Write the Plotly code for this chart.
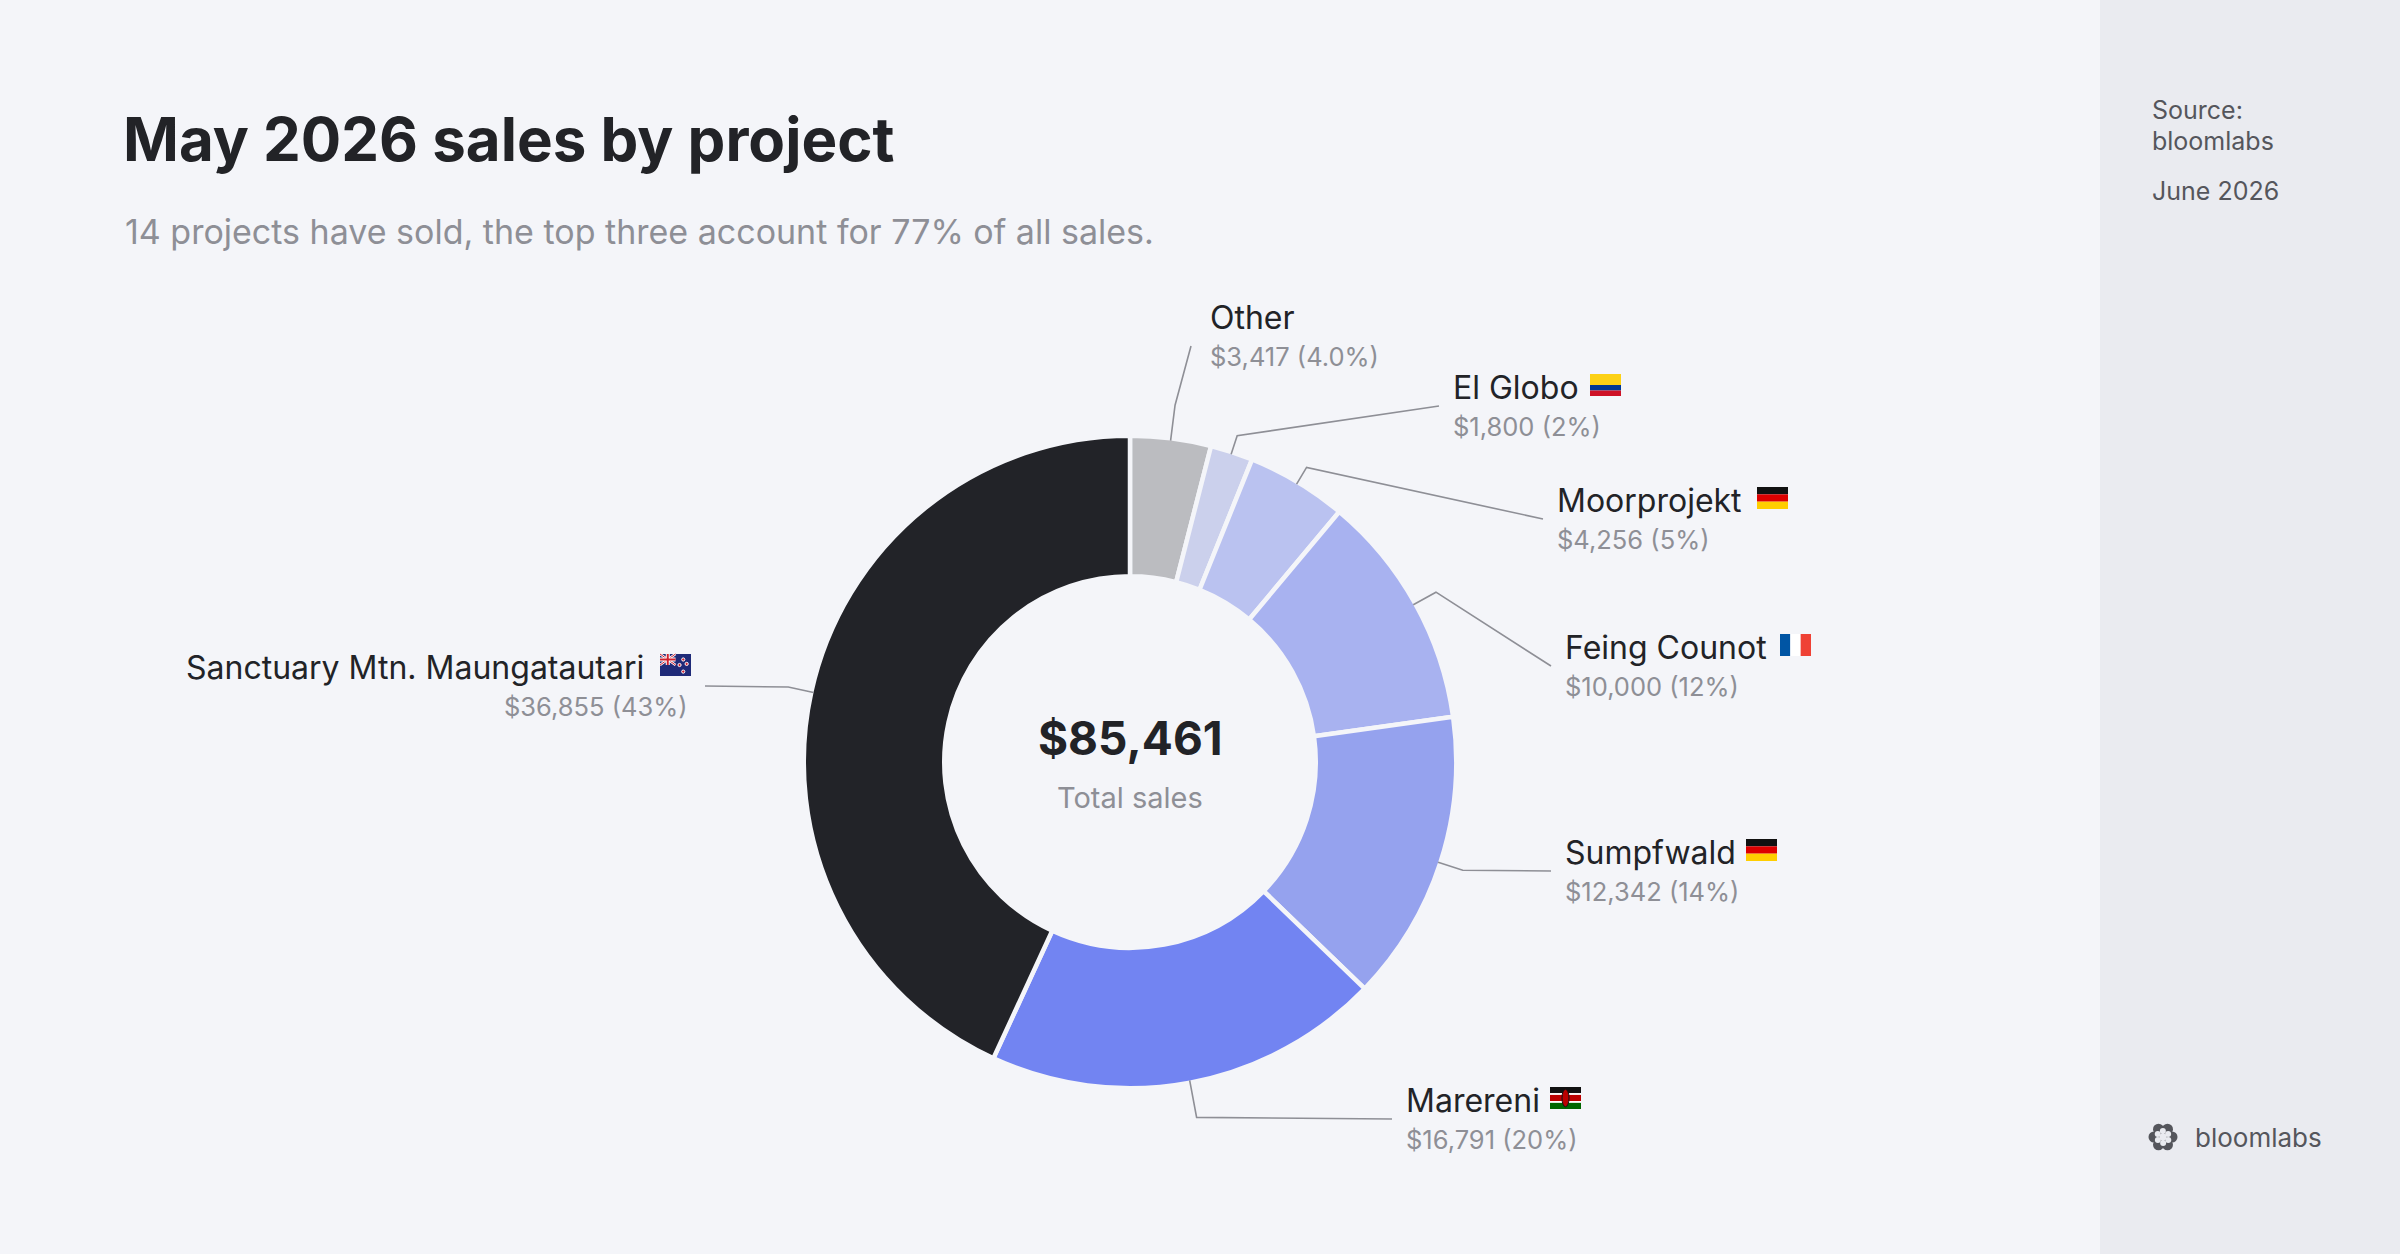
import math
import plotly.graph_objects as go

# data
PROJECTS = ["Other", "El Globo", "Moorprojekt", "Feing Counot", "Sumpfwald",
            "Marereni", "Sanctuary Mtn. Maungatautari"]
SALES = [3417, 1800, 4256, 10000, 12342, 16791, 36855]
FLAGS = [None, "co", "de", "fr", "de", "ke", "nz"]
PROJECT_COUNT = 14
SLICE_COLORS = ["#bbbcc0", "#cbd0ec", "#bac2f0", "#a8b2f0", "#95a2ee", "#7284f2", "#222328"]

W, H = 2400, 1254
BG = "#f4f5f9"
PANEL = "#eaebf0"
DARK = "#222327"
GREY = "#8e8f96"
INK = "#55565c"
FONT = "Inter"

# donut geometry in pixels
CX, CY = 1130, 762
R_OUT = 324
R_IN = 188
GAP = 4.5
R_DOM = R_OUT + GAP / 2

# label placement (pixels): name x, name y, side, flag x, elbow radius factor
LABELS = {
    "Other": (1208, 317, "left", None, 1.11),
    "El Globo": (1451, 387, "left", 1590, 1.06),
    "Moorprojekt": (1555, 500, "left", 1757, 1.06),
    "Feing Counot": (1563, 647, "left", 1780, 1.08),
    "Sumpfwald": (1563, 852, "left", 1746, 1.08),
    "Marereni": (1404, 1100, "left", 1550, 1.116),
    "Sanctuary Mtn. Maungatautari": (646, 667, "right", 660, 1.08),
}


def px(x):
    return x / W


def py(y):
    return 1 - y / H


total = sum(SALES)
top3 = sum(sorted(SALES[1:], reverse=True)[:3])

fig = go.Figure()
fig.add_trace(go.Pie(
    values=SALES, labels=PROJECTS, sort=False, direction="clockwise", rotation=0,
    hole=(R_IN - GAP / 2) / R_DOM,
    marker=dict(colors=SLICE_COLORS, line=dict(color=BG, width=GAP)),
    textinfo="none", hoverinfo="label+value+percent", showlegend=False,
    domain=dict(x=[px(CX - R_DOM), px(CX + R_DOM)], y=[py(CY + R_DOM), py(CY - R_DOM)]),
))

shapes = []
annotations = []

# right panel
shapes.append(dict(type="rect", xref="paper", yref="paper", x0=px(2100), x1=1, y0=0, y1=1,
                   fillcolor=PANEL, line=dict(width=0), layer="below"))


def rect(x0, y0, x1, y1, color):
    shapes.append(dict(type="rect", xref="paper", yref="paper",
                       x0=px(x0), x1=px(x1), y0=py(y1), y1=py(y0),
                       fillcolor=color, line=dict(width=0), layer="above"))


def line(x0, y0, x1, y1, color, width):
    shapes.append(dict(type="line", xref="paper", yref="paper",
                       x0=px(x0), x1=px(x1), y0=py(y0), y1=py(y1),
                       line=dict(color=color, width=width), layer="above"))


def circle(xc, yc, r, color, outline=None):
    shapes.append(dict(type="circle", xref="paper", yref="paper",
                       x0=px(xc - r), x1=px(xc + r), y0=py(yc + r), y1=py(yc - r),
                       fillcolor=color,
                       line=dict(color=outline or color, width=1 if outline else 0),
                       layer="above"))


def draw_flag(code, x, yc, w=31, h=22):
    y0 = yc - h / 2
    if code == "de":
        for i, c in enumerate(["#111111", "#dd0000", "#ffce00"]):
            rect(x, y0 + i * h / 3, x + w, y0 + (i + 1) * h / 3, c)
    elif code == "fr":
        for i, c in enumerate(["#0055a4", "#ffffff", "#ef4135"]):
            rect(x + i * w / 3, y0, x + (i + 1) * w / 3, y0 + h, c)
    elif code == "co":
        rect(x, y0, x + w, y0 + h / 2, "#fcd116")
        rect(x, y0 + h / 2, x + w, y0 + 3 * h / 4, "#003893")
        rect(x, y0 + 3 * h / 4, x + w, y0 + h, "#ce1126")
    elif code == "ke":
        bands = [(0, 0.28, "#111111"), (0.28, 0.36, "#ffffff"), (0.36, 0.64, "#bb0000"),
                 (0.64, 0.72, "#ffffff"), (0.72, 1, "#006600")]
        for a, b, c in bands:
            rect(x, y0 + a * h, x + w, y0 + b * h, c)
        shapes.append(dict(type="circle", xref="paper", yref="paper",
                           x0=px(x + w / 2 - 3.5), x1=px(x + w / 2 + 3.5),
                           y0=py(y0 + h * 0.9), y1=py(y0 + h * 0.1),
                           fillcolor="#bb0000", line=dict(color="#111111", width=1),
                           layer="above"))
    elif code == "nz":
        rect(x, y0, x + w, y0 + h, "#1f2a78")
        cw, ch = w / 2, h / 2
        line(x, y0, x + cw, y0 + ch, "#ffffff", 2.5)
        line(x, y0 + ch, x + cw, y0, "#ffffff", 2.5)
        line(x, y0, x + cw, y0 + ch, "#d0202e", 1)
        line(x, y0 + ch, x + cw, y0, "#d0202e", 1)
        rect(x + cw / 2 - 2, y0, x + cw / 2 + 2, y0 + ch, "#ffffff")
        rect(x, y0 + ch / 2 - 2, x + cw, y0 + ch / 2 + 2, "#ffffff")
        rect(x + cw / 2 - 1, y0, x + cw / 2 + 1, y0 + ch, "#d0202e")
        rect(x, y0 + ch / 2 - 1, x + cw, y0 + ch / 2 + 1, "#d0202e")
        for sx, sy in [(0.75, 0.25), (0.63, 0.5), (0.86, 0.45), (0.75, 0.8)]:
            circle(x + sx * w, y0 + sy * h, 1.6, "#d0202e", "#ffffff")


# leader lines and labels from slice angles
cum = 0
for name, value, flag in zip(PROJECTS, SALES, FLAGS):
    mid = (cum + value / 2) / total * 2 * math.pi
    cum += value
    lx, ly, side, fx, k = LABELS[name]
    sx, sy = CX + R_OUT * math.sin(mid), CY - R_OUT * math.cos(mid)
    ex, ey = CX + R_OUT * k * math.sin(mid), CY - R_OUT * k * math.cos(mid)
    pct = value / total * 100
    pct_txt = f"{pct:.1f}%" if name == "Other" else f"{pct:.0f}%"
    if side == "left":
        ax, ay = lx - 12, ly + 19
        if name == "Other":
            ax, ay = lx - 17, ly + 29
        vx = lx
    else:
        ax, ay = fx + 45, ly + 19
        vx = fx + 30
    shapes.append(dict(type="path", xref="paper", yref="paper",
                       path=f"M {px(sx)},{py(sy)} L {px(ex)},{py(ey)} L {px(ax)},{py(ay)}",
                       line=dict(color=GREY, width=1.6), layer="above"))
    annotations.append(dict(x=px(lx), y=py(ly), xref="paper", yref="paper", text=name,
                            showarrow=False, xanchor=side, yanchor="middle",
                            font=dict(family=FONT, size=32, color=DARK)))
    annotations.append(dict(x=px(vx), y=py(ly + 39), xref="paper", yref="paper",
                            text=f"${value:,} ({pct_txt})",
                            showarrow=False, xanchor=side, yanchor="middle",
                            font=dict(family=FONT, size=25.5, color=GREY)))
    if flag:
        draw_flag(flag, fx, ly - 2)

# title, subtitle, centre, side panel
annotations += [
    dict(x=px(121), y=py(139), xref="paper", yref="paper", text="<b>May 2026 sales by project</b>",
         showarrow=False, xanchor="left", yanchor="middle",
         font=dict(family=FONT, size=60, color=DARK)),
    dict(x=px(123), y=py(231), xref="paper", yref="paper",
         text=f"{PROJECT_COUNT} projects have sold, the top three account for {top3 / total * 100:.0f}% of all sales.",
         showarrow=False, xanchor="left", yanchor="middle",
         font=dict(family=FONT, size=34, color=GREY)),
    dict(x=px(CX), y=py(738), xref="paper", yref="paper", text=f"<b>${total:,}</b>",
         showarrow=False, xanchor="center", yanchor="middle",
         font=dict(family=FONT, size=46, color=DARK)),
    dict(x=px(CX), y=py(797), xref="paper", yref="paper", text="Total sales",
         showarrow=False, xanchor="center", yanchor="middle",
         font=dict(family=FONT, size=29, color=GREY)),
    dict(x=px(2150), y=py(110), xref="paper", yref="paper", text="Source:",
         showarrow=False, xanchor="left", yanchor="middle",
         font=dict(family=FONT, size=25, color=INK)),
    dict(x=px(2150), y=py(141), xref="paper", yref="paper", text="bloomlabs",
         showarrow=False, xanchor="left", yanchor="middle",
         font=dict(family=FONT, size=25, color=INK)),
    dict(x=px(2150), y=py(191), xref="paper", yref="paper", text="June 2026",
         showarrow=False, xanchor="left", yanchor="middle",
         font=dict(family=FONT, size=25, color=INK)),
    dict(x=px(2193), y=py(1137), xref="paper", yref="paper", text="bloomlabs",
         showarrow=False, xanchor="left", yanchor="middle",
         font=dict(family=FONT, size=26, color=INK)),
]

# bloomlabs logo mark: six swirled petals
for i in range(6):
    a = i * math.pi / 3
    circle(2163 + 9 * math.cos(a), 1137 + 9 * math.sin(a), 5.5, INK)
for i in range(6):
    a = i * math.pi / 3 + 0.5
    circle(2163 + 6 * math.cos(a), 1137 + 6 * math.sin(a), 3, PANEL)

fig.update_layout(
    width=W, height=H, margin=dict(l=0, r=0, t=0, b=0),
    paper_bgcolor=BG, plot_bgcolor=BG,
    shapes=shapes, annotations=annotations,
)

fig.write_html("out.html", config={"displayModeBar": False},
               post_script="document.body.style.margin='0';")
